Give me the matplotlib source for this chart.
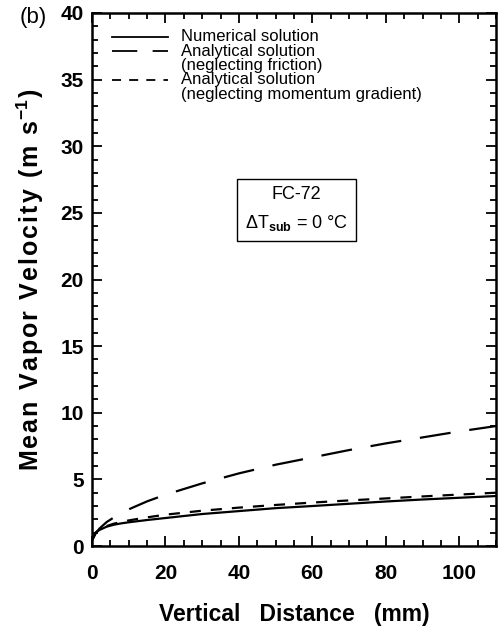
import matplotlib
matplotlib.use("Agg")
import matplotlib.pyplot as plt
from matplotlib.ticker import MultipleLocator
from matplotlib.lines import Line2D

plt.rcParams['font.family'] = ['Liberation Sans', 'DejaVu Sans']
plt.rcParams['mathtext.fontset'] = 'custom'
plt.rcParams['mathtext.rm'] = 'Liberation Sans'
plt.rcParams['mathtext.bf'] = 'Liberation Sans:bold'
plt.rcParams['mathtext.it'] = 'Liberation Sans:italic'

# Data
z = [0, 1, 2, 4, 6, 8, 10, 15, 20, 30, 40, 50, 60, 70, 80, 90, 100, 110]
v_numerical = [0.45, 1.0, 1.2, 1.45, 1.6, 1.7, 1.78, 1.95, 2.1, 2.4, 2.62, 2.84,
               3.0, 3.17, 3.34, 3.49, 3.62, 3.75]
v_no_friction = [0.4, 0.95, 1.3, 1.8, 2.15, 2.45, 2.75, 3.35, 3.85, 4.7, 5.45,
                 6.1, 6.65, 7.2, 7.7, 8.15, 8.6, 9.0]
v_no_momentum = [0.45, 1.0, 1.22, 1.5, 1.68, 1.8, 1.92, 2.15, 2.35, 2.65, 2.88,
                 3.08, 3.26, 3.42, 3.57, 3.72, 3.86, 4.0]

legend_lines = [("Numerical solution", '-'),
                ("Analytical solution", 'long'),
                ("(neglecting friction)", None),
                ("Analytical solution", 'short'),
                ("(neglecting momentum gradient)", None)]

fig = plt.figure(figsize=(4.99, 6.33), dpi=100)
ax = fig.add_axes([92/499, (633-546)/633, (496-92)/499, (546-13)/633])

lw = 1.6
long_dash = (0, (14, 8.5))
short_dash = (0, (5, 4.5))
ax.plot(z, v_numerical, color='black', lw=lw, linestyle='-')
ax.plot(z, v_no_friction, color='black', lw=lw, linestyle=long_dash)
ax.plot(z, v_no_momentum, color='black', lw=lw, linestyle=short_dash)

ax.set_xlim(0, 110)
ax.set_ylim(0, 40)
ax.xaxis.set_major_locator(MultipleLocator(20))
ax.xaxis.set_minor_locator(MultipleLocator(5))
ax.yaxis.set_major_locator(MultipleLocator(5))
ax.yaxis.set_minor_locator(MultipleLocator(1))
ax.tick_params(which='both', direction='in', top=True, right=True, width=1.3)
ax.tick_params(which='major', length=7, labelsize=15, pad=6)
ax.tick_params(axis='x', which='major', pad=13)
ax.tick_params(which='minor', length=4)
for lab in ax.get_xticklabels() + ax.get_yticklabels():
    lab.set_fontweight('bold')
for s in ax.spines.values():
    s.set_linewidth(1.8)

hs = "\u200a"
xlab = "Vertical   Distance   (mm)"
ax.set_xlabel(xlab, fontsize=16.5, fontweight='bold', labelpad=14)
ylab_plain = hs.join("Mean Vapor Velocity (m s")
ax.set_ylabel(ylab_plain + r"$^{\mathbf{-1}}$" + hs + ")", fontsize=18,
              fontweight='bold', labelpad=10)

# Manual legend
row_y = [0.955, 0.9287, 0.9024, 0.8743, 0.848]
style_map = {'-': '-', 'long': long_dash, 'short': short_dash}
for yr, (lab, st) in zip(row_y, legend_lines):
    if st is not None:
        ax.add_line(Line2D([0.0495, 0.188], [yr, yr], transform=ax.transAxes,
                           color='black', lw=1.3, linestyle=style_map[st]))
    ax.text(0.220, yr, lab, transform=ax.transAxes, fontsize=12,
            va='center', ha='left')

# Annotation box
ax.text(0.506, 0.632, "FC-72\n" + r"$\Delta$T$_{\mathbf{sub}}$ = 0 °C",
        transform=ax.transAxes, fontsize=13, ha='center', va='center',
        linespacing=1.65,
        bbox=dict(boxstyle='square,pad=0.45', facecolor='white',
                  edgecolor='black', lw=1.0))

fig.text(20/499, 1 - 17/633, "(b)", fontsize=16, ha='left', va='center')

fig.savefig("out.png", dpi=100)
